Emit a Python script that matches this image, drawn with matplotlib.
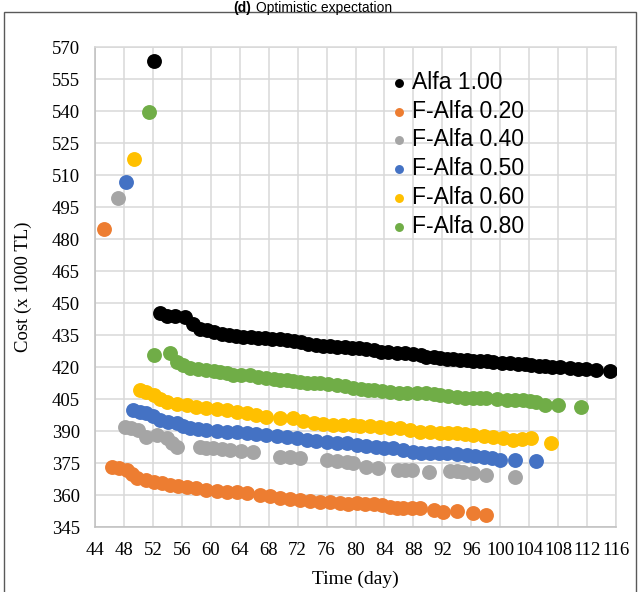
import matplotlib
matplotlib.use("Agg")
import matplotlib.pyplot as plt
from matplotlib.patches import Rectangle

# (day, cost x1000 TL)
alfa100_x = [52.2, 53.0, 54.0, 55.0, 56.4, 57.5, 58.5, 59.5, 60.5, 61.5, 62.5, 63.5, 64.5, 65.5, 66.5,
             67.5, 68.5, 69.5, 70.5, 71.5, 72.5, 73.5, 74.5, 75.5, 76.5, 77.5, 78.5, 79.5, 80.5, 81.5,
             82.5, 83.5, 84.5, 85.7, 86.8, 88.0, 89.0, 89.8, 90.8, 91.7, 92.6, 93.5, 94.5, 95.4, 96.3,
             97.2, 98.2, 99.0, 100.2, 101.4, 102.5, 103.4, 104.3, 105.4, 106.2, 107.1, 108.3, 109.6,
             110.8, 111.9, 113.3, 115.2]
alfa100_y = [563.6, 445.2, 444.0, 443.8, 443.6, 440.0, 438.0, 437.2, 436.3, 435.6, 434.8, 434.3, 434.2,
             434.1, 433.8, 433.5, 433.2, 432.9, 432.6, 432.2, 431.6, 431.0, 430.4, 429.8, 429.7, 429.6,
             429.3, 428.8, 429.0, 428.3, 427.9, 427.2, 426.8, 426.4, 426.4, 426.3, 425.4, 424.8, 424.5,
             424.1, 423.9, 423.6, 423.4, 423.3, 423.0, 422.8, 422.6, 422.2, 422.0, 421.7, 421.4, 421.2,
             420.9, 420.6, 420.4, 420.2, 419.8, 419.4, 419.2, 419.1, 418.6, 418.1]

falfa020_x = [45.2, 46.3, 47.3, 48.4, 49.1, 49.8, 51.0, 52.1, 53.2, 54.4, 55.5, 56.7, 58.0, 59.4, 60.8,
              62.2, 63.6, 65.0, 66.8, 68.2, 69.6, 71.0, 72.3, 73.7, 75.1, 76.5, 77.9, 79.0, 80.2, 81.3,
              82.5, 83.6, 84.8, 85.7, 86.6, 87.8, 88.9, 90.8, 92.1, 94.0, 96.3, 98.1]
falfa020_y = [484.7, 373.3, 372.8, 371.7, 369.8, 367.8, 367.0, 366.2, 365.4, 364.7, 364.3, 363.9, 363.1,
              362.3, 361.9, 361.5, 361.2, 360.8, 360.0, 359.3, 358.5, 358.1, 357.7, 357.3, 356.9, 356.5,
              356.2, 356.0, 356.1, 356.0, 355.8, 355.2, 354.5, 354.1, 353.8, 353.8, 353.8, 353.0, 352.2,
              352.7, 351.7, 350.6]

falfa040_x = [47.2, 48.1, 49.0, 50.0, 51.0, 52.5, 53.9, 54.6, 55.3, 58.5, 59.4, 60.3, 61.5, 62.6, 64.2,
              65.9, 69.6, 70.9, 72.3, 76.0, 77.4, 78.8, 79.7, 81.5, 83.1, 85.9, 86.8, 87.8, 90.1, 93.1,
              94.0, 94.9, 96.3, 98.1, 102.0]
falfa040_y = [499.4, 392.0, 391.4, 390.5, 387.0, 388.1, 386.5, 384.5, 382.6, 382.6, 382.2, 381.9, 381.5,
              381.1, 380.7, 380.3, 378.0, 377.6, 377.2, 376.4, 376.0, 375.6, 374.9, 373.3, 372.5, 371.7,
              371.7, 371.7, 370.9, 371.4, 371.2, 370.9, 370.2, 369.4, 368.6]

falfa050_x = [48.3, 49.3, 50.2, 51.1, 52.0, 53.0, 54.1, 55.3, 56.2, 57.1, 58.2, 59.4, 60.8, 62.2, 63.6,
              65.0, 66.3, 67.7, 69.1, 70.5, 71.9, 73.3, 74.6, 76.0, 77.4, 78.8, 80.2, 81.5, 82.9, 84.0,
              85.2, 86.6, 88.0, 89.1, 90.3, 91.5, 92.6, 94.0, 95.4, 96.5, 97.7, 98.8, 100.0, 102.0, 105.0]
falfa050_y = [506.9, 399.9, 399.0, 398.3, 396.8, 395.2, 394.4, 393.6, 392.5, 391.3, 390.9, 390.5, 390.1,
              389.7, 389.3, 388.9, 388.5, 388.1, 387.7, 387.3, 386.6, 385.8, 385.4, 385.0, 384.6, 384.2,
              383.4, 383.0, 382.6, 382.2, 381.9, 381.1, 380.3, 379.9, 379.5, 379.5, 379.5, 379.1, 378.8,
              378.4, 378.0, 377.2, 376.4, 376.4, 376.0]

falfa060_x = [49.4, 50.2, 51.1, 52.1, 53.0, 53.9, 55.3, 56.7, 58.0, 59.4, 60.8, 62.2, 63.6, 65.0, 66.3,
              67.7, 69.5, 71.4, 72.8, 74.2, 75.5, 76.9, 78.3, 79.7, 80.6, 82.0, 83.4, 84.8, 86.2, 87.5,
              88.9, 90.3, 91.7, 92.8, 94.0, 95.2, 96.3, 97.7, 99.0, 100.4, 101.8, 103.0, 104.3, 107.0]
falfa060_y = [517.4, 409.2, 408.5, 406.9, 405.0, 403.7, 402.8, 402.2, 401.3, 400.6, 400.2, 399.9, 399.0,
              398.3, 397.5, 396.7, 396.3, 396.0, 394.8, 393.6, 393.2, 392.8, 393.0, 392.6, 392.4, 392.2,
              392.0, 391.6, 391.3, 390.5, 389.7, 389.3, 388.9, 388.9, 388.9, 388.5, 388.1, 387.7, 387.3,
              386.6, 385.8, 386.2, 386.6, 384.5]

falfa080_x = [51.4, 52.1, 54.4, 55.3, 56.2, 57.1, 58.3, 59.4, 60.4, 61.3, 62.2, 63.1, 64.2, 65.4, 66.5,
              67.7, 68.7, 69.6, 70.5, 71.4, 72.3, 73.3, 74.2, 75.1, 76.2, 77.4, 78.5, 79.7, 80.8, 81.7,
              82.5, 83.6, 84.8, 86.0, 87.1, 88.5, 89.8, 90.8, 91.7, 92.8, 94.0, 95.1, 96.3, 97.2, 98.1,
              99.5, 100.9, 102.0, 103.2, 104.1, 105.0, 106.2, 108.0, 111.1]
falfa080_y = [539.4, 425.6, 426.4, 422.5, 420.8, 419.4, 418.9, 418.6, 418.2, 417.8, 417.0, 416.3, 416.4,
              416.3, 415.5, 414.7, 414.3, 414.0, 413.9, 413.5, 413.1, 412.7, 412.5, 412.4, 412.0, 411.6,
              411.0, 410.0, 409.8, 409.4, 409.2, 408.8, 408.4, 408.0, 407.7, 407.7, 407.7, 407.2, 406.9,
              406.5, 406.1, 405.7, 405.3, 405.3, 405.3, 404.8, 404.5, 404.5, 404.5, 404.0, 403.7, 402.2,
              402.2, 401.4]

labels = ["Alfa 1.00", "F-Alfa 0.20", "F-Alfa 0.40", "F-Alfa 0.50", "F-Alfa 0.60", "F-Alfa 0.80"]
colors = ["#000000", "#ED7D31", "#A5A5A5", "#4472C4", "#FFC000", "#70AD47"]
series = [(alfa100_x, alfa100_y), (falfa020_x, falfa020_y), (falfa040_x, falfa040_y),
          (falfa050_x, falfa050_y), (falfa060_x, falfa060_y), (falfa080_x, falfa080_y)]

xticks = list(range(44, 117, 4))
yticks = list(range(345, 571, 15))

W, H = 639, 592
fig = plt.figure(figsize=(W / 100, H / 100), dpi=100)
ax = fig.add_axes([95 / W, 1 - 527 / H, 521 / W, 480 / H])

for (xs, ys), lab, col in zip(series, labels, colors):
    ax.scatter(xs, ys, s=115, color=col, label=lab, zorder=3, linewidths=0)

ax.set_xlim(44, 116)
ax.set_ylim(345, 570)
ax.set_xticks(xticks)
ax.set_yticks(yticks)
ax.grid(True, color="#d9d9d9", linewidth=1.1)
ax.set_axisbelow(True)
ax.tick_params(length=0, pad=11, labelsize=13.5)
for lab in ax.get_xticklabels() + ax.get_yticklabels():
    lab.set_family("Liberation Serif")
for sp in ax.spines.values():
    sp.set_color("#d9d9d9")
    sp.set_linewidth(1.1)
ax.spines["left"].set_color("#bfbfbf")
ax.spines["bottom"].set_color("#bfbfbf")

ax.set_xlabel("Time (day)", family="Liberation Serif", fontsize=14, labelpad=8)
ax.set_ylabel("Cost (x 1000 TL)", family="Liberation Serif", fontsize=13.5, labelpad=14)

leg = ax.legend(loc="upper left", bbox_to_anchor=(389 / W, 1 - 71 / H), bbox_transform=fig.transFigure,
                frameon=False, markerscale=0.6, handletextpad=0.12, handlelength=0.9,
                labelspacing=0.25, borderpad=0, borderaxespad=0,
                prop={"family": "Liberation Sans", "size": 16.5})

# outer frame of the original figure
fig.patches.append(Rectangle((4 / W, -0.05), 632 / W, 1.05 - 12 / H, transform=fig.transFigure,
                             fill=False, edgecolor="#595959", linewidth=1.0))

fig.text(251 / W, 1 - 1 / H, "(d)", ha="right", va="top", fontsize=10,
         family="Liberation Sans", weight="bold")
fig.text(256 / W, 1 - 1 / H, "Optimistic expectation", ha="left", va="top", fontsize=10,
         family="Liberation Sans")

fig.savefig("out.png", dpi=100)
